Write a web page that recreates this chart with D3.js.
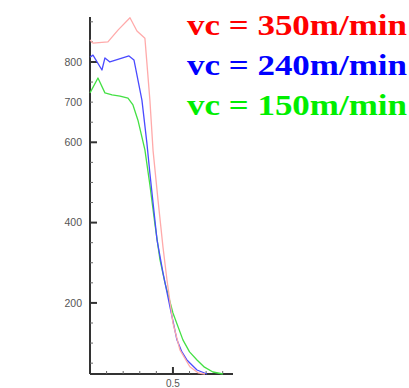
<!DOCTYPE html>
<html>
<head>
<meta charset="utf-8">
<script src="https://cdn.jsdelivr.net/npm/d3@7"></script>
<style>
  html, body { margin: 0; padding: 0; background: #fff; }
  svg { display: block; }
</style>
</head>
<body>
<svg id="chart" width="409" height="388"></svg>
<script>
// Cutting force profiles for three cutting speeds
const seriesNames = ["vc = 350m/min", "vc = 240m/min", "vc = 150m/min"];
const seriesColors = ["#ff0000", "#0000ff", "#00ee00"];
const lineColors = ["#ffaaaa", "#4a4aff", "#44e044"];

const redX = [0, 0.018, 0.108, 0.170, 0.241, 0.283, 0.331, 0.361, 0.380, 0.410, 0.440, 0.464, 0.500, 0.542, 0.602, 0.651, 0.693];
const redY = [855, 847, 850, 880, 910, 877, 859, 705, 580, 456, 339, 257, 150, 83, 41, 26, 23];

const blueX = [0, 0.018, 0.072, 0.090, 0.120, 0.235, 0.265, 0.313, 0.343, 0.361, 0.404, 0.440, 0.482, 0.524, 0.554, 0.584, 0.645, 0.705];
const blueY = [812, 817, 780, 810, 800, 815, 805, 705, 598, 523, 357, 275, 190, 108, 78, 58, 33, 23];

const greenX = [0, 0.048, 0.090, 0.133, 0.181, 0.229, 0.259, 0.289, 0.331, 0.361, 0.392, 0.422, 0.452, 0.500, 0.560, 0.600, 0.645, 0.690, 0.741, 0.801];
const greenY = [723, 760, 723, 718, 715, 710, 693, 655, 581, 494, 394, 307, 250, 175, 108, 78, 58, 40, 28, 23];

const yTickLabels = [800, 700, 600, 400, 200];
const yMajorTicks = [800, 600, 400, 200];
const xMajorTicks = [0.5];

const svg = d3.select("#chart");

const x = d3.scaleLinear().domain([0, 0.862]).range([90, 233]);
const y = d3.scaleLinear().domain([23, 912]).range([374, 17]);

const axisColor = "#333";

// axis lines
svg.append("line").attr("x1", x(0)).attr("x2", x(0)).attr("y1", y(912)).attr("y2", y(23))
  .attr("stroke", axisColor).attr("stroke-width", 2);
svg.append("line").attr("x1", x(0)).attr("x2", x(0.862)).attr("y1", y(23)).attr("y2", y(23))
  .attr("stroke", axisColor).attr("stroke-width", 2);

// y ticks (inward)
const yMinor = d3.range(50, 912, 50).filter(v => !yMajorTicks.includes(v));
svg.append("g").selectAll("line").data(yMinor).join("line")
  .attr("x1", x(0)).attr("x2", x(0) + 3)
  .attr("y1", d => y(d)).attr("y2", d => y(d))
  .attr("stroke", "#666").attr("stroke-width", 1);
svg.append("g").selectAll("line").data(yMajorTicks).join("line")
  .attr("x1", x(0)).attr("x2", x(0) + 7)
  .attr("y1", d => y(d)).attr("y2", d => y(d))
  .attr("stroke", axisColor).attr("stroke-width", 2);
svg.append("g").selectAll("text").data(yTickLabels).join("text")
  .attr("x", 82).attr("y", d => y(d)).attr("dy", "0.35em")
  .attr("text-anchor", "end")
  .attr("font-family", "Liberation Sans, Arial, sans-serif")
  .attr("font-size", 10.5).attr("fill", "#555")
  .text(d => d);

// x ticks (inward)
const xMinor = d3.range(1, 9).map(i => i / 10).filter(v => !xMajorTicks.includes(v));
svg.append("g").selectAll("line").data(xMinor).join("line")
  .attr("x1", d => x(d)).attr("x2", d => x(d))
  .attr("y1", y(23)).attr("y2", y(23) - 3)
  .attr("stroke", "#666").attr("stroke-width", 1);
svg.append("g").selectAll("line").data(xMajorTicks).join("line")
  .attr("x1", d => x(d)).attr("x2", d => x(d))
  .attr("y1", y(23)).attr("y2", y(23) - 7)
  .attr("stroke", axisColor).attr("stroke-width", 2);
svg.append("g").selectAll("text").data(xMajorTicks).join("text")
  .attr("x", d => x(d)).attr("y", 387)
  .attr("text-anchor", "middle")
  .attr("font-family", "Liberation Sans, Arial, sans-serif")
  .attr("font-size", 10).attr("fill", "#555")
  .text(d => d);

// curves
const series = [
  { xs: redX, ys: redY },
  { xs: blueX, ys: blueY },
  { xs: greenX, ys: greenY }
];
const line = d3.line().x(d => x(d[0])).y(d => y(d[1])).curve(d3.curveLinear);
[2, 1, 0].forEach(i => {
  const pts = series[i].xs.map((v, j) => [v, series[i].ys[j]]);
  svg.append("path").attr("d", line(pts))
    .attr("fill", "none").attr("stroke", lineColors[i])
    .attr("stroke-width", 1.3).attr("stroke-linejoin", "round");
});

// legend
svg.append("g").selectAll("text").data(seriesNames).join("text")
  .attr("x", 187).attr("y", (d, i) => 35 + i * 40)
  .attr("font-family", "Liberation Serif, Times New Roman, serif")
  .attr("font-weight", "bold").attr("font-size", 29)
  .attr("textLength", 220).attr("lengthAdjust", "spacingAndGlyphs")
  .attr("fill", (d, i) => seriesColors[i])
  .text(d => d);
</script>
</body>
</html>
